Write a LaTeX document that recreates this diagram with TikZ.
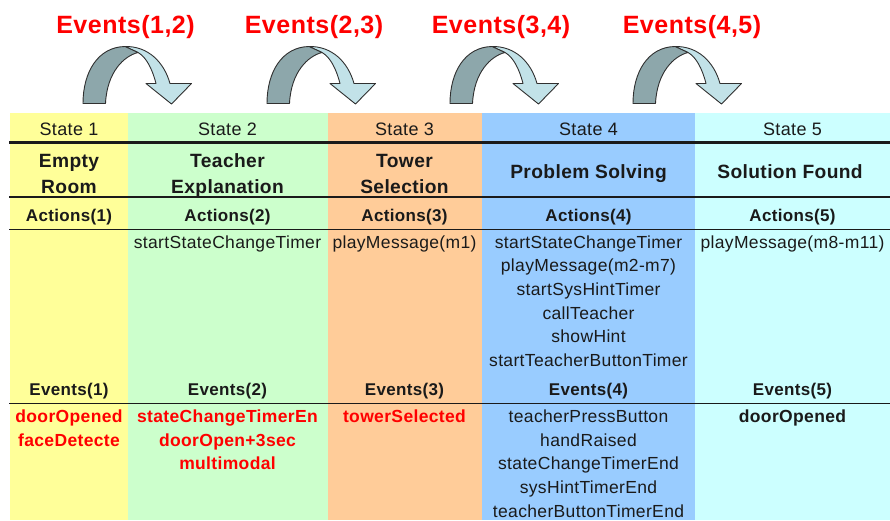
\documentclass[tikz,border=0pt]{standalone}
\usepackage{fontspec}
\setmainfont[LetterSpace=2]{Liberation Sans}
\definecolor{cA}{HTML}{FFFF99}
\definecolor{cB}{HTML}{CCFFCC}
\definecolor{cC}{HTML}{FFCC99}
\definecolor{cD}{HTML}{99CCFF}
\definecolor{cE}{HTML}{CCFFFF}
\definecolor{ink}{HTML}{1A1A1A}
\definecolor{evred}{HTML}{FF0000}
\definecolor{arrdk}{HTML}{8DA7AB}
\definecolor{arrlt}{HTML}{C2E2E8}
\definecolor{arrln}{HTML}{303030}
\tikzset{
  base/.style={anchor=base, inner sep=0pt, text=ink},
  sttxt/.style={base, font=\fontsize{18}{21}\selectfont},
  nmtxt/.style={base, font=\bfseries\fontsize{19.2}{22}\selectfont},
  hdtxt/.style={base, font=\bfseries\fontsize{17}{20}\selectfont},
  actxt/.style={base, font=\fontsize{17.5}{20}\selectfont},
  evtxt/.style={base, text=evred, font=\bfseries\fontsize{17.5}{20}\selectfont},
  evblk/.style={base, font=\bfseries\fontsize{17.5}{20}\selectfont},
  toptxt/.style={base, text=evred, font=\bfseries\fontsize{25}{30}\selectfont},
  rulethick/.style={line width=2.2pt, ink},
  rulethin/.style={line width=1.3pt, ink},
  arrdark/.style={fill=arrdk, draw=arrln, line width=0.9pt, line join=round},
  arrlight/.style={fill=arrlt, draw=arrln, line width=0.9pt, line join=round},
}
\newcommand\bentarrow[1]{%
  \begin{scope}[xshift=#1]
    \filldraw[arrlight] (125,46.5) .. controls (148,46) and (164,62) .. (170,83.5)
      -- (191.5,83.5) -- (171.5,104) -- (146,83.5) -- (156,83.5)
      .. controls (152,68) and (146,57) .. (138,52.5) -- cycle;
    \filldraw[arrdark] (83,103.5) .. controls (83,72) and (98,47) .. (125,46.5)
      -- (138,52.5) .. controls (124,56) and (107,72) .. (105.5,103.5) -- cycle;
  \end{scope}}
\begin{document}
\begin{tikzpicture}[x=1pt,y=-1pt]
\useasboundingbox (0,0) rectangle (890,520);
% columns
\fill[cA] (10,113) rectangle (128,520);
\fill[cB] (128,113) rectangle (327.5,520);
\fill[cC] (327.5,113) rectangle (482,520);
\fill[cD] (482,113) rectangle (695,520);
\fill[cE] (695,113) rectangle (890,520);
% rules
\draw[rulethick] (9,142.5) -- (890,142.5);
\draw[rulethick] (9,197) -- (890,197);
\draw[rulethin] (9,229.5) -- (890,229.5);
\draw[rulethin] (9,403.5) -- (890,403.5);
% bent arrows
\bentarrow{0pt}
\bentarrow{184pt}
\bentarrow{367pt}
\bentarrow{550pt}
% top labels
\node[toptxt] (t12) at (125.5,33.3) {Events(1,2)};
\node[toptxt] (t23) at (314,33.3) {Events(2,3)};
\node[toptxt] (t34) at (501,33.3) {Events(3,4)};
\node[toptxt] (t45) at (692,33.3) {Events(4,5)};
% states
\node[sttxt] (s1) at (69,135) {State 1};
\node[sttxt] (s2) at (227.5,135) {State 2};
\node[sttxt] (s3) at (404.5,135) {State 3};
\node[sttxt] (s4) at (588.5,135) {State 4};
\node[sttxt] (s5) at (792.5,135) {State 5};
% names
\node[nmtxt] (n1a) at (69,167) {Empty};
\node[nmtxt] (n1b) at (69,193) {Room};
\node[nmtxt] (n2a) at (227.5,167) {Teacher};
\node[nmtxt] (n2b) at (227.5,193) {Explanation};
\node[nmtxt] (n3a) at (404.5,167) {Tower};
\node[nmtxt] (n3b) at (404.5,193) {Selection};
\node[nmtxt] (n4) at (588.5,178.5) {Problem Solving};
\node[nmtxt] (n5) at (790,178.5) {Solution Found};
% actions headers
\node[hdtxt] (a1) at (69,221.5) {Actions(1)};
\node[hdtxt] (a2) at (227.5,221.5) {Actions(2)};
\node[hdtxt] (a3) at (404.5,221.5) {Actions(3)};
\node[hdtxt] (a4) at (588.5,221.5) {Actions(4)};
\node[hdtxt] (a5) at (792.5,221.5) {Actions(5)};
% actions
\node[actxt] (a2i1) at (227.5,248) {startStateChangeTimer};
\node[actxt] (a3i1) at (404.5,248) {playMessage(m1)};
\node[actxt] (a4i1) at (588.5,248) {startStateChangeTimer};
\node[actxt] (a4i2) at (588.5,271.7) {playMessage(m2-m7)};
\node[actxt] (a4i3) at (588.5,295.4) {startSysHintTimer};
\node[actxt] (a4i4) at (588.5,319.1) {callTeacher};
\node[actxt] (a4i5) at (588.5,342.8) {showHint};
\node[actxt] (a4i6) at (588.5,366.5) {startTeacherButtonTimer};
\node[actxt] (a5i1) at (792.5,248) {playMessage(m8-m11)};
% events headers
\node[hdtxt] (e1) at (69,395.5) {Events(1)};
\node[hdtxt] (e2) at (227.5,395.5) {Events(2)};
\node[hdtxt] (e3) at (404.5,395.5) {Events(3)};
\node[hdtxt] (e4) at (588.5,395.5) {Events(4)};
\node[hdtxt] (e5) at (792.5,395.5) {Events(5)};
% events
\node[evtxt] (e1i1) at (69,422.7) {doorOpened};
\node[evtxt] (e1i2) at (69,446.3) {faceDetecte};
\node[evtxt] (e2i1) at (227.5,422.7) {stateChangeTimerEn};
\node[evtxt] (e2i2) at (227.5,446.3) {doorOpen+3sec};
\node[evtxt] (e2i3) at (227.5,469.9) {multimodal};
\node[evtxt] (e3i1) at (404.5,422.7) {towerSelected};
\node[actxt] (e4i1) at (588.5,422.7) {teacherPressButton};
\node[actxt] (e4i2) at (588.5,446.3) {handRaised};
\node[actxt] (e4i3) at (588.5,469.9) {stateChangeTimerEnd};
\node[actxt] (e4i4) at (588.5,493.5) {sysHintTimerEnd};
\node[actxt] (e4i5) at (588.5,517.1) {teacherButtonTimerEnd};
\node[evblk] (e5i1) at (792.5,422.7) {doorOpened};
\end{tikzpicture}
\end{document}
